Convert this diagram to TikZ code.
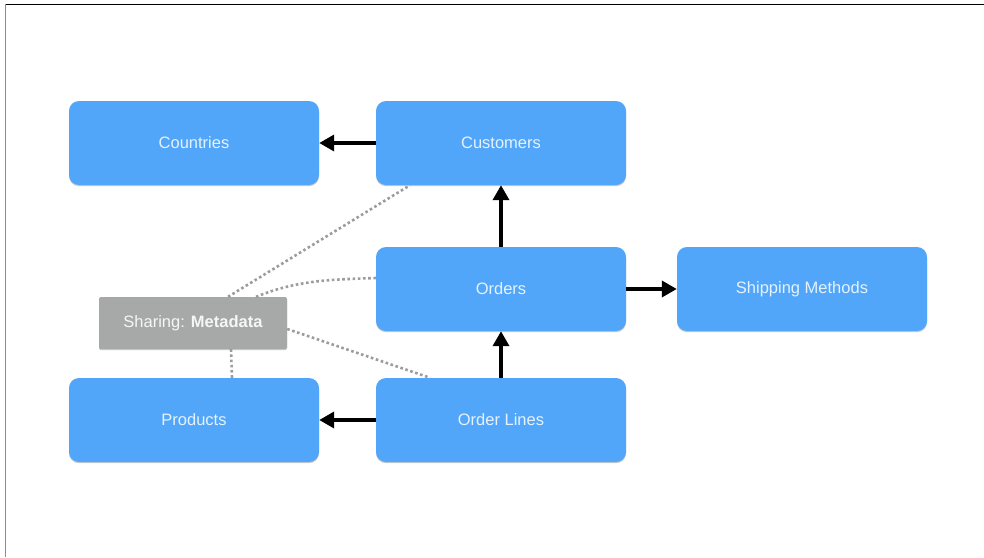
\documentclass[tikz,border=0pt]{standalone}
\usepackage{fontspec}
\setmainfont{Liberation Sans}
\usepackage{tikz}
\usetikzlibrary{arrows.meta}
\usetikzlibrary{shadows}
\definecolor{tblue}{HTML}{52A6F9}
\definecolor{tgray}{HTML}{A6A9A7}
\definecolor{dotgray}{HTML}{9C9C9C}
\tikzset{
  tbl/.style={fill=tblue, rounded corners=10pt, minimum width=250pt, minimum height=84pt,
    text=white!85!tblue, font=\fontsize{16.5}{19}\selectfont, inner sep=0pt,
    drop shadow={shadow xshift=0pt, shadow yshift=-1.2pt, opacity=.35, fill=black!60}},
  meta/.style={fill=tgray, rounded corners=1.5pt, minimum width=188pt, minimum height=52pt,
    text=white!90!tgray, font=\fontsize{16.5}{19}\selectfont, inner sep=0pt,
    drop shadow={shadow xshift=0pt, shadow yshift=-1.2pt, opacity=.35, fill=black!60}},
  link/.style={black, line width=3.6pt, -{Triangle[length=15pt,width=16pt]}},
  share/.style={dotgray, line width=2.6pt, dash pattern=on 2.6pt off 2.6pt}
}

\begin{document}
\begin{tikzpicture}[x=1pt, y=-1pt]
\useasboundingbox (0,0) rectangle (984,557);
% frame
\draw[black, line width=1.6pt] (5,4.5) -- (984,4.5);
\draw[black!45, line width=1.6pt] (5.5,4) -- (5.5,557);
% tables
\node[tbl] (countries)  at (194,143) {Countries};
\node[tbl] (customers)  at (501,143) {Customers};
\node[tbl] (orders)     at (501,289) {Orders};
\node[tbl] (shipping)   at (802,289) {Shipping Methods};
\node[tbl] (products)   at (194,420) {Products};
\node[tbl] (orderlines) at (501,420) {Order Lines};
\node[meta] (metadata)  at (193,323) {Sharing: \textbf{Metadata}};
% foreign keys
\draw[link] (customers) -- (countries);
\draw[link] (orders) -- (customers);
\draw[link] (orders) -- (shipping);
\draw[link] (orderlines) -- (orders);
\draw[link] (orderlines) -- (products);
% sharing
\draw[share] ([xshift=35pt]metadata.north) -- ([xshift=-91pt]customers.south);
\draw[share] ([xshift=63pt]metadata.north) .. controls +(22:45pt) and +(182:45pt) .. ([yshift=11pt]orders.west);
\draw[share] ([yshift=-6pt]metadata.east) -- ([xshift=-71pt]orderlines.north);
\draw[share] ([xshift=38pt]metadata.south) -- ([xshift=38pt]products.north);
\end{tikzpicture}
\end{document}
